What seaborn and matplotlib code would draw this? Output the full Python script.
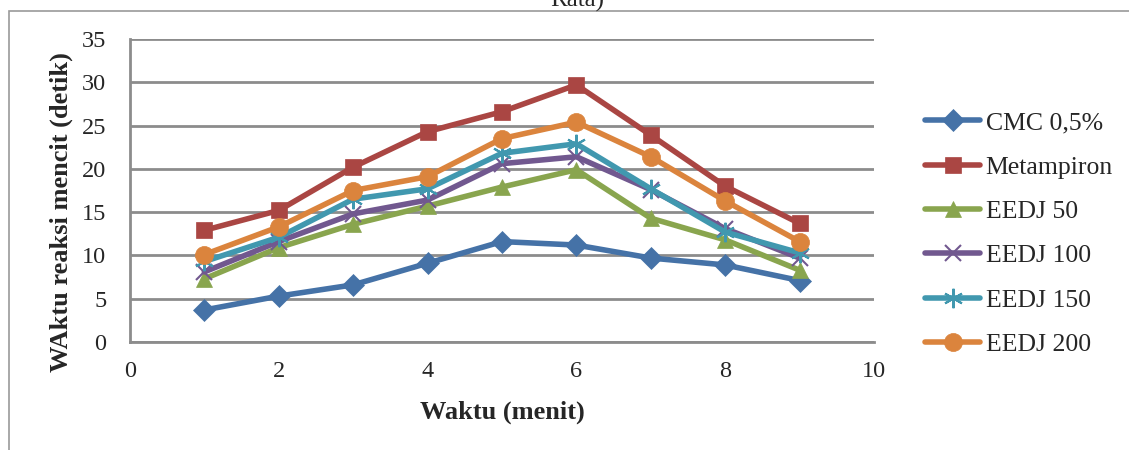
import numpy as np
import pandas as pd
import matplotlib
matplotlib.use("Agg")
import matplotlib.pyplot as plt
import seaborn as sns
from matplotlib.patches import Rectangle

# datos
waktu = [1, 2, 3, 4, 5, 6, 7, 8, 9]
cmc = [3.7, 5.3, 6.6, 9.1, 11.6, 11.2, 9.7, 8.9, 7.1]
metampiron = [12.9, 15.2, 20.2, 24.3, 26.6, 29.7, 23.9, 18.0, 13.7]
eedj50 = [7.3, 10.9, 13.6, 15.7, 17.9, 19.9, 14.3, 11.8, 8.3]
eedj100 = [8.1, 11.6, 14.8, 16.4, 20.6, 21.4, 17.6, 13.1, 9.7]
eedj150 = [9.3, 12.1, 16.5, 17.7, 21.8, 22.9, 17.7, 12.7, 10.3]
eedj200 = [10.1, 13.3, 17.5, 19.1, 23.5, 25.4, 21.4, 16.3, 11.6]

series = ["CMC 0,5%", "Metampiron", "EEDJ 50", "EEDJ 100", "EEDJ 150", "EEDJ 200"]
colors = ["#4572A7", "#AA4643", "#89A54E", "#71588F", "#4198AF", "#DB843D"]
markers = ["D", "s", "^", "x", (6, 2, 0), "o"]
msizes = [11, 12, 12, 12, 14, 13]

df = pd.DataFrame({
    "Waktu": waktu * 6,
    "Nilai": cmc + metampiron + eedj50 + eedj100 + eedj150 + eedj200,
    "Kelompok": np.repeat(series, len(waktu)),
})

sns.set_style("white")
plt.rcParams["font.family"] = ["Liberation Serif", "DejaVu Serif"]

fig = plt.figure(figsize=(11.29, 4.5), dpi=100)
ax = fig.add_axes([0.1151, 0.24, 0.659, 0.6733])

for name, c, m, ms in zip(series, colors, markers, msizes):
    sub = df[df["Kelompok"] == name]
    sns.lineplot(data=sub, x="Waktu", y="Nilai", ax=ax, color=c, marker=m,
                 markersize=ms, linewidth=4, markeredgecolor=c,
                 markeredgewidth=1.5 if m in ("x", (6, 2, 0)) else 0.5,
                 label=name, errorbar=None)

ax.set_xlim(0, 10)
ax.set_ylim(0, 35)
ax.set_xticks(range(0, 11, 2))
ax.set_yticks(range(0, 36, 5))
ax.yaxis.grid(True, color="#8c8c8c", linewidth=2)
ax.xaxis.grid(False)
for s in ["top", "right"]:
    ax.spines[s].set_visible(False)
for s in ["left", "bottom"]:
    ax.spines[s].set_color("#8c8c8c")
    ax.spines[s].set_linewidth(2)
ax.tick_params(axis="both", length=0, labelsize=17.5)
ax.tick_params(axis="x", pad=14)
ax.tick_params(axis="y", pad=17)
ax.set_xlabel("Waktu (menit)", fontsize=19, fontweight="bold", labelpad=13)
ax.set_ylabel("WAktu reaksi mencit (detik)", fontsize=19, fontweight="bold")
ax.yaxis.set_label_coords(-0.077, 0.43)

leg = ax.legend(loc="center left", bbox_to_anchor=(0.799, 0.481),
                bbox_transform=fig.transFigure, frameon=False, fontsize=18.5,
                handlelength=2.15, handletextpad=0.2, labelspacing=0.83)

# marco exterior y titulo recortado
fig.patches.append(Rectangle((9 / 1129, -0.1), 1.2, 1.1 - 11 / 450,
                             transform=fig.transFigure, fill=False,
                             edgecolor="#9a9a9a", linewidth=1.2))
fig.text(577 / 1129, 1 - 7 / 450, "Rata)", ha="center", va="baseline", fontsize=18)

fig.savefig("out.png", dpi=100)
